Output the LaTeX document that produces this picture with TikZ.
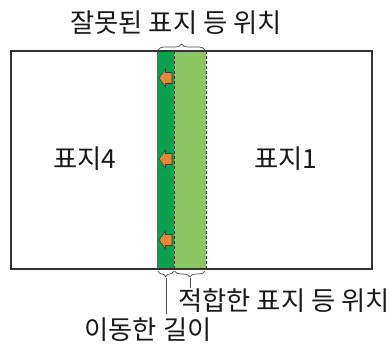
\documentclass[tikz,border=0pt]{standalone}
\usepackage{fontspec}
\setmainfont{Noto Sans CJK KR}
\usetikzlibrary{decorations.pathreplacing}
\definecolor{darkg}{HTML}{0BA04B}
\definecolor{lightg}{HTML}{8CC563}
\definecolor{orng}{HTML}{E8873A}
\definecolor{lineg}{HTML}{333333}
\begin{document}
\begin{tikzpicture}[x=1pt,y=-1pt,
  lbl/.style={font=\fontsize{26.3}{28}\selectfont, inner sep=0pt, text=black!90},
  brc/.style={draw=black!70, line width=0.7pt, decorate, decoration={brace, amplitude=6pt}},
  arr/.style={fill=orng, draw=black!75, line width=0.6pt, line join=miter}]
\useasboundingbox (0,0) rectangle (391,347);
% strips
\fill[darkg] (157,51) rectangle (174,269);
\fill[lightg] (174,51) rectangle (206,269);
\draw[black!60, line width=0.8pt] (157,51) -- (157,269);
\draw[black!80, dashed, line width=0.8pt, dash pattern=on 3pt off 2pt] (174,51) -- (174,269);
\draw[black!80, dashed, line width=0.8pt, dash pattern=on 3pt off 2pt] (206,51) -- (206,269);
% outer rectangle
\draw[lineg, line width=1.8pt] (11,51) rectangle (372,269);
% arrows
\foreach \yy/\nm in {78/a1,159/a2,240/a3}{
  \draw[arr] (159,\yy) -- (165.5,\yy-9) -- (165.5,\yy-5.5) -- (172,\yy-5.5) -- (172,\yy+5.5) -- (165.5,\yy+5.5) -- (165.5,\yy+9) -- cycle;
}
% braces
\coordinate (tbL) at (158,50);
\coordinate (tbR) at (205,50);
\draw[brc] (tbL) -- (tbR);
\coordinate (b1L) at (158,271);
\coordinate (b1R) at (173.5,271);
\coordinate (b2L) at (174.5,271);
\coordinate (b2R) at (205,271);
\draw[brc, decoration={brace, mirror, amplitude=6pt}] (b1L) -- (b1R);
\draw[brc, decoration={brace, mirror, amplitude=6pt}] (b2L) -- (b2R);
\coordinate (t1) at (166,278);
\coordinate (t2) at (190,278);
\coordinate (e1) at (166,314);
\coordinate (e2) at (190,288);
\draw[black!70, line width=0.7pt] (t1) -- (e1);
\draw[black!70, line width=0.7pt] (t2) -- (e2);
% labels
\node[lbl] (top) at (176,23) {잘못된 표지 등 위치};
\node[lbl] (p4) at (85,159) {표지4};
\node[lbl] (p1) at (286,159) {표지1};
\node[lbl] (ok) at (284,301) {적합한 표지 등 위치};
\node[lbl] (mv) at (148,330) {이동한 길이};
\end{tikzpicture}
\end{document}
